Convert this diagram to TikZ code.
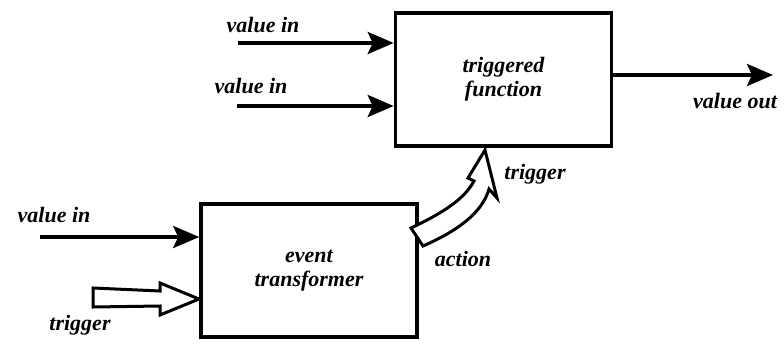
\documentclass[tikz,border=0pt]{standalone}
\usepackage{fontspec}
\setmainfont{Liberation Serif}[BoldItalicFont={Liberation Serif Bold Italic}]
\usetikzlibrary{arrows.meta}
\begin{document}
\begin{tikzpicture}[x=1pt,y=-1pt,
  block/.style={draw,line width=3.6pt,minimum width=216pt,minimum height=133pt,
    align=center,inner sep=0pt,font=\fontsize{22}{24}\selectfont\bfseries\itshape},
  lbl/.style={font=\fontsize{22}{24}\selectfont\bfseries\itshape,inner sep=0pt},
  flow/.style={line width=3.6pt,-{Stealth[length=26pt,width=22pt,inset=5pt]}},
  hollow/.style={draw,line width=3pt,fill=white,line join=miter}]
\useasboundingbox (0,0) rectangle (784,343);

% blocks
\node[block] (tf) at (503.5,79.5) {triggered\\function};
\node[block] (et) at (309,270.5) {event\\transformer};

% value inputs and output
\coordinate (s1) at (238,43);
\coordinate (s2) at (237,106);
\coordinate (s3) at (40,237);
\coordinate (e4) at (773,75);
\draw[flow] (s1) -- (s1 -| tf.west);
\draw[flow] (s2) -- (s2 -| tf.west);
\draw[flow] (s3) -- (s3 -| et.west);
\draw[flow] (e4 -| tf.east) -- (e4);

\node[lbl] (l1) at (263,25) {value in};
\node[lbl] (l2) at (251,86) {value in};
\node[lbl] (l3) at (54,215) {value in};
\node[lbl] (l4) at (735,101) {value out};

% hollow trigger arrow into the event transformer
\draw[hollow] (93,288) -- (160,291) -- (160,283) -- (199,299) -- (160,315)
  -- (160,306) -- (93,307) -- cycle;
\node[lbl] (l5) at (80,325) {trigger};

% curved hollow action arrow into the triggered function
\draw[hollow] (411,228) .. controls (445,212) and (465,198) .. (474,181)
  -- (468,178) -- (485,150) -- (497,198) -- (489,189)
  .. controls (482,214) and (455,232) .. (423,246) -- cycle;
\node[lbl] (l6) at (535,174) {trigger};
\node[lbl] (l7) at (463,259) {action};
\end{tikzpicture}
\end{document}
